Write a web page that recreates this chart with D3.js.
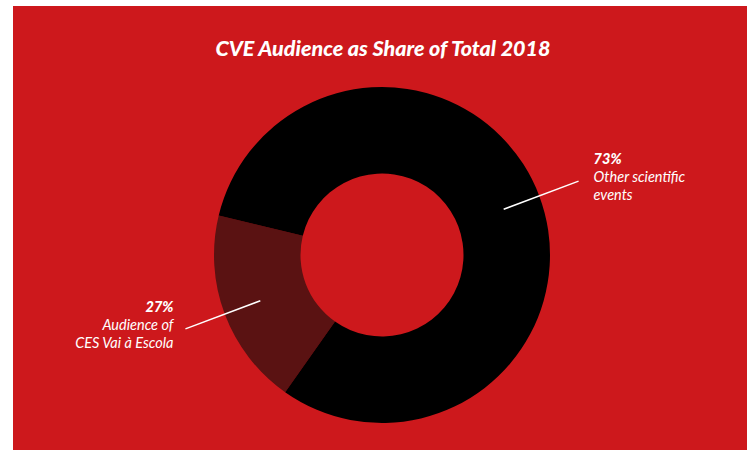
<!DOCTYPE html>
<html>
<head>
<meta charset="utf-8">
<script src="https://cdn.jsdelivr.net/npm/d3@7"></script>
<style>
  html, body { margin: 0; padding: 0; background: #ffffff; }
  svg { display: block; }
</style>
</head>
<body>
<svg id="chart" width="752" height="450"></svg>
<script>
// ---- data ----
const title = "CVE Audience as Share of Total 2018";
const categories = ["Audience of CES Vai à Escola", "Other scientific events"];
// slice shares as drawn in the picture (degrees of the ring / 360)
const sliceShares = [19, 81];
// printed value labels
const valueLabels = ["27%", "73%"];
const labelLines = [["Audience of", "CES Vai à Escola"], ["Other scientific", "events"]];
const sliceColors = ["#5a1212", "#000000"];

// ---- layout ----
const W = 752, H = 450;
const bg = { x: 13, y: 6, w: 734, h: 444 };
const cx = 382, cy = 255, outerR = 168, innerR = 81.5;
const startDeg = 215.2;

const svg = d3.select("#chart");
svg.append("rect")
  .attr("x", bg.x).attr("y", bg.y).attr("width", bg.w).attr("height", bg.h)
  .attr("fill", "#cd181c");

svg.append("text")
  .attr("x", 383).attr("y", 56)
  .attr("text-anchor", "middle")
  .attr("fill", "#ffffff")
  .style("font-family", "Lato, 'Open Sans', sans-serif")
  .style("font-weight", "900")
  .style("font-style", "italic")
  .style("font-size", "21.5px")
  .text(title);

const start = startDeg * Math.PI / 180;
const pie = d3.pie().sort(null).value(d => d.v)
  .startAngle(start).endAngle(start + 2 * Math.PI);
const data = categories.map((c, i) => ({ c, v: sliceShares[i], i }));
const arcs = pie(data);
const arc = d3.arc().innerRadius(innerR).outerRadius(outerR);

const g = svg.append("g").attr("transform", `translate(${cx},${cy})`);
g.selectAll("path.slice").data(arcs).enter().append("path")
  .attr("class", "slice")
  .attr("d", arc)
  .attr("fill", d => sliceColors[d.data.i]);

// leader lines and labels
const lineArcIn = d3.arc().innerRadius(130).outerRadius(130);
const lineArcOut = d3.arc().innerRadius(210).outerRadius(210);
arcs.forEach(a => {
  const p1 = lineArcIn.centroid(a);
  const p2 = lineArcOut.centroid(a);
  g.append("line")
    .attr("x1", p1[0]).attr("y1", p1[1])
    .attr("x2", p2[0]).attr("y2", p2[1])
    .attr("stroke", "#ffffff").attr("stroke-width", 1.5);
  const right = p2[0] > 0;
  const tx = p2[0] + (right ? 15 : -12);
  const ty = p2[1] - 17;
  const t = g.append("text")
    .attr("x", tx).attr("y", ty)
    .attr("text-anchor", right ? "start" : "end")
    .attr("fill", "#ffffff")
    .style("font-family", "Lato, 'Open Sans', sans-serif")
    .style("font-style", "italic")
    .style("font-size", "14.5px");
  t.append("tspan").attr("x", tx).attr("dy", 0)
    .style("font-weight", "900")
    .text(valueLabels[a.data.i]);
  labelLines[a.data.i].forEach(line => {
    t.append("tspan").attr("x", tx).attr("dy", 18)
      .style("font-weight", "400")
      .text(line);
  });
});
</script>
</body>
</html>
